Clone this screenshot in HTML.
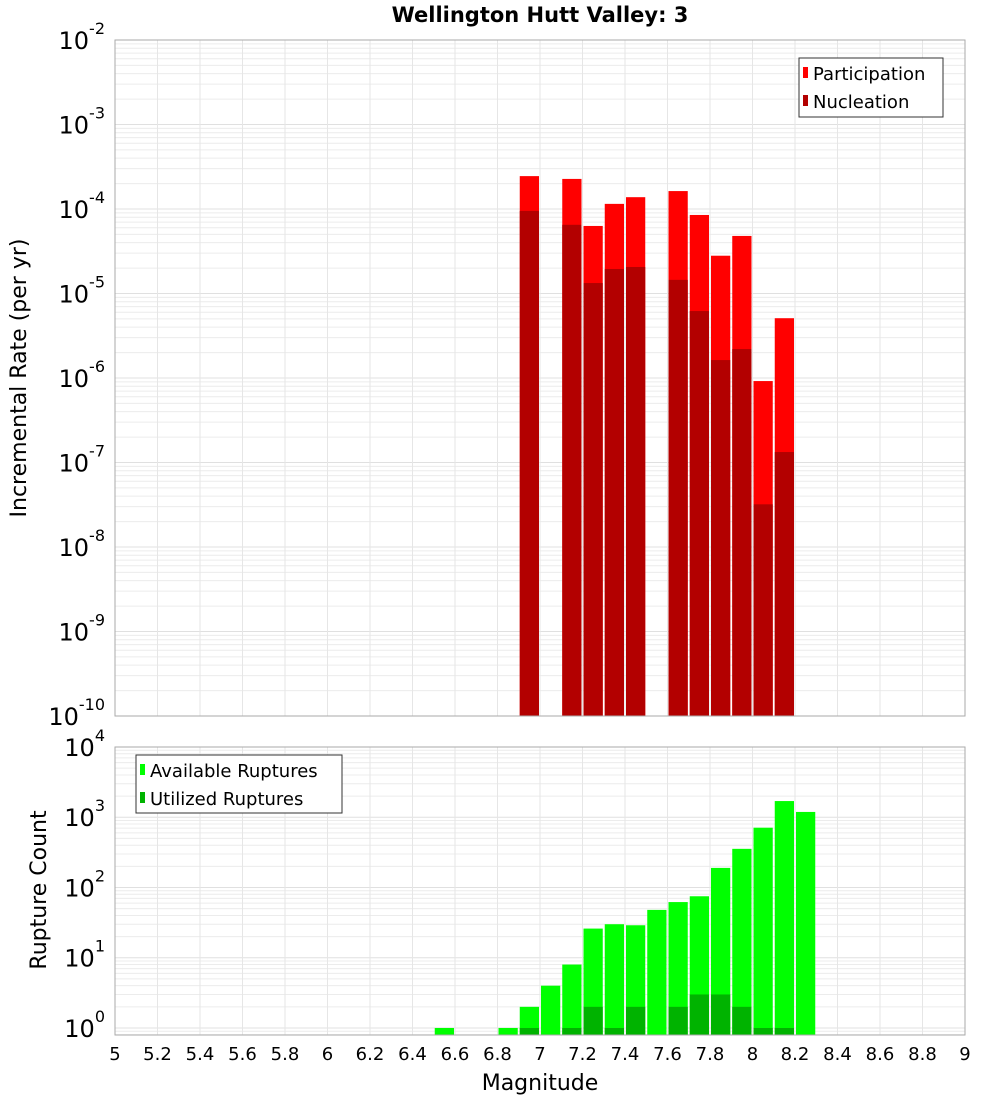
<!DOCTYPE html>
<html><head><meta charset="utf-8"><style>
body{margin:0;background:#fff;font-family:"DejaVu Sans","Liberation Sans",sans-serif}
text{font-family:"DejaVu Sans","Liberation Sans",sans-serif}
</style></head><body>
<svg id="chart" width="1000" height="1100" xmlns="http://www.w3.org/2000/svg">
<text x="540" y="22" text-anchor="middle" font-size="21" font-weight="bold">Wellington Hutt Valley: 3</text>
<g id="top"></g>
<g id="bot"></g>
<text transform="translate(26,378) rotate(-90)" text-anchor="middle" font-size="22">Incremental Rate (per yr)</text>
<text transform="translate(46,890) rotate(-90)" text-anchor="middle" font-size="22">Rupture Count</text>
<text x="540" y="1090" text-anchor="middle" font-size="22">Magnitude</text>
</svg>
<script>
const rateBins=[6.9,7.1,7.2,7.3,7.4,7.6,7.7,7.8,7.9,8.0,8.1];
const participation=[2.45e-4,2.27e-4,6.3e-5,1.15e-4,1.38e-4,1.63e-4,8.5e-5,2.8e-5,4.8e-5,9.2e-7,5.1e-6];
const nucleation=[9.5e-5,6.5e-5,1.33e-5,1.95e-5,2.06e-5,1.45e-5,6.2e-6,1.63e-6,2.2e-6,3.2e-8,1.33e-7];
const availBins=[6.5,6.8,6.9,7.0,7.1,7.2,7.3,7.4,7.5,7.6,7.7,7.8,7.9,8.0,8.1,8.2];
const available=[1,1,2,4,8,26,30,29,48,62,75,190,355,710,1700,1190];
const utilBins=[6.9,7.1,7.2,7.3,7.4,7.6,7.7,7.8,7.9,8.0,8.1];
const utilized=[1,1,2,1,2,2,3,3,2,1,1];
const xTicks=[5,5.2,5.4,5.6,5.8,6,6.2,6.4,6.6,6.8,7,7.2,7.4,7.6,7.8,8,8.2,8.4,8.6,8.8,9];
const topExps=[-2,-3,-4,-5,-6,-7,-8,-9,-10];
const botExps=[4,3,2,1,0];

const NS="http://www.w3.org/2000/svg";
const X0=115,X1=965;
const x=m=>X0+(m-5)/4*(X1-X0);
function mk(p,t,a){const e=document.createElementNS(NS,t);for(const k in a)e.setAttribute(k,a[k]);p.appendChild(e);return e;}
function panel(g,top,bot,lmax,lmin,name){
  const y=v=>top+(lmax-Math.log10(v))/(lmax-lmin)*(bot-top);
  // grid
  for(let d=Math.floor(lmin);d<lmax;d++)for(let k=1;k<10;k++){const v=k*Math.pow(10,d);const lv=Math.log10(v);if(lv<lmin||lv>lmax)continue;
    const l=mk(g,'line',{x1:X0,x2:X1,y1:y(v),y2:y(v),stroke:k==1?'#e0e0e0':'#ececec','stroke-width':1});
    
    }
  xTicks.forEach(t=>{const l=mk(g,'line',{x1:x(t),x2:x(t),y1:top,y2:bot,stroke:'#e6e6e6'});
    
    });
  return y;
}
function bars(g,bins,vals,y,bot,color,name){
  bins.forEach((b,i)=>{const yt=y(vals[i]);const r=mk(g,'rect',{x:x(b)+1,y:yt,width:x(b+0.1)-x(b)-2,height:bot-yt,fill:color});
    
    });
}
function yLabels(g,exps,y,prefix){
  exps.forEach(e=>{const t=mk(g,'text',{x:X0-10,y:y(Math.pow(10,e))+9,'text-anchor':'end','font-size':24});
    
    
    t.textContent='10';const s=mk(t,'tspan',{dy:-15,'font-size':16});s.textContent=String(e);});
}
// top panel
const gt=document.getElementById('top');
const yT=panel(gt,40,716,-2,-10,'rate');
bars(gt,rateBins,participation,yT,716,'#ff0000','participation-bar');
bars(gt,rateBins,nucleation,yT,716,'#b30000','nucleation-bar');
mk(gt,'rect',{x:X0,y:40,width:X1-X0,height:676,fill:'none',stroke:'#aaa'});
yLabels(gt,topExps,yT,'rate-y');
// top legend
const lg=mk(gt,'g',{});
mk(lg,'rect',{x:799,y:58,width:144,height:59,fill:'#fff',stroke:'#333'});
mk(lg,'rect',{x:803,y:67,width:5,height:11,fill:'#ff0000'});
mk(lg,'rect',{x:803,y:95,width:5,height:11,fill:'#b30000'});
let t=mk(lg,'text',{x:813,y:80,'font-size':18});t.textContent='Participation';
t=mk(lg,'text',{x:813,y:108,'font-size':18});t.textContent='Nucleation';
// bottom panel
const gb=document.getElementById('bot');
const yB=panel(gb,747,1035,4,-0.1,'count');
bars(gb,availBins,available,yB,1035,'#00ff00','available-bar');
bars(gb,utilBins,utilized,yB,1035,'#00b300','utilized-bar');
mk(gb,'rect',{x:X0,y:747,width:X1-X0,height:288,fill:'none',stroke:'#aaa'});
yLabels(gb,botExps,yB,'count-y');
xTicks.forEach(v=>{const tx=mk(gb,'text',{x:x(v),y:1060,'text-anchor':'middle','font-size':18});
  
  
  tx.textContent=String(v);});
const lb=mk(gb,'g',{});
mk(lb,'rect',{x:136,y:755,width:206,height:58,fill:'#fff',stroke:'#333'});
mk(lb,'rect',{x:140,y:764,width:5,height:11,fill:'#00ff00'});
mk(lb,'rect',{x:140,y:792,width:5,height:11,fill:'#00b300'});
t=mk(lb,'text',{x:150,y:777,'font-size':18});t.textContent='Available Ruptures';
t=mk(lb,'text',{x:150,y:805,'font-size':18});t.textContent='Utilized Ruptures';
</script>
</body></html>
